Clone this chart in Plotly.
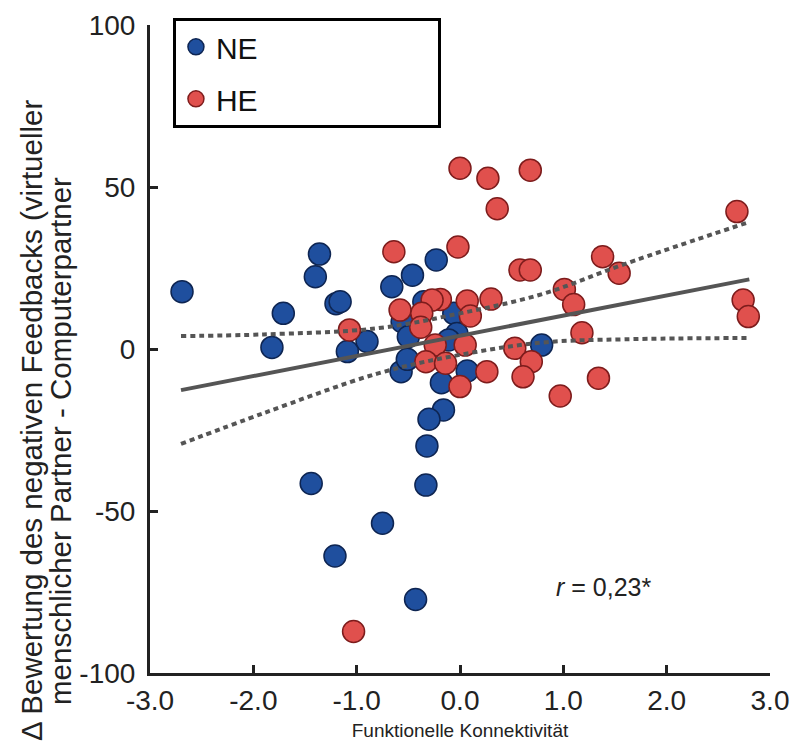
import plotly.graph_objects as go

# ---- data ----
ne_x = [-2.69, -1.71, -1.82, -1.36, -1.40, -1.20, -1.16, -0.90, -1.09, -0.66, -0.46, -0.23,
        -0.56, -0.50, -0.35, -0.06, -0.03, -0.11, -0.57, -0.51, -0.18, 0.07, 0.79, -0.16,
        -0.30, -0.32, -1.44, -0.33, -0.75, -1.21, -0.43]
ne_y = [17.7, 11.0, 0.5, 29.3, 22.3, 14.0, 14.6, 2.3, -0.8, 19.2, 22.8, 27.5,
        8.4, 3.8, 14.6, 11.0, 4.8, 2.8, -7.0, -3.2, -10.4, -6.8, 1.2, -18.8,
        -21.7, -29.9, -41.5, -42.0, -53.8, -63.9, -77.3]

he_x = [-1.07, -0.64, -0.02, 0.00, 0.27, 0.68, 0.36, 0.58, 0.68, -0.58, -0.19, -0.27,
        -0.37, -0.38, 0.07, 0.10, 0.30, -0.24, 0.05, -0.33, -0.14, 0.00, 0.26, 0.53,
        0.69, 0.61, 0.97, 1.34, 1.01, 1.10, 1.18, 1.38, 1.54, 2.68, 2.74, 2.79, -1.03]
he_y = [5.9, 30.0, 31.5, 55.8, 52.7, 55.2, 43.3, 24.4, 24.4, 12.0, 15.3, 15.1,
        11.0, 6.7, 14.8, 10.2, 15.4, 1.2, 1.2, -3.9, -4.4, -11.6, -7.0, 0.2,
        -3.9, -8.6, -14.5, -9.0, 18.4, 13.7, 5.0, 28.5, 23.4, 42.4, 15.1, 10.0, -87.2]

fit_x = [-2.7, 2.8]
fit_y = [-12.7, 21.5]

ci_x = [-2.7, -1.9, -0.8, 0.0, 0.8, 1.6, 2.8]
ci_upper = [4.0, 4.5, 6.4, 11.0, 17.0, 26.3, 39.2]
ci_lower = [-29.3, -19.8, -7.6, -1.8, 2.0, 3.0, 3.4]

x_ticks = [-3, -2, -1, 0, 1, 2, 3]
x_ticklabels = ["-3.0", "-2.0", "-1.0", "0.0", "1.0", "2.0", "3.0"]
y_ticks = [-100, -50, 0, 50, 100]
y_ticklabels = ["-100", "-50", "0", "50", "100"]

FONT = "Arial, 'Liberation Sans', sans-serif"
BLUE, BLUE_EDGE = "#1f4f9e", "#0e2552"
RED, RED_EDGE = "#e0504d", "#7d1c1c"
LINE = "#555555"
PAD = "\u00a0" * 21  # widens the legend box like the reference

fig = go.Figure()
fig.add_trace(go.Scatter(x=ne_x, y=ne_y, mode="markers", name="NE" + PAD, legendgroup="ne",
                         marker=dict(size=22, color=BLUE, line=dict(color=BLUE_EDGE, width=1.5))))
fig.add_trace(go.Scatter(x=he_x, y=he_y, mode="markers", name="HE" + PAD, legendgroup="he",
                         marker=dict(size=22, color=RED, line=dict(color=RED_EDGE, width=1.5))))
fig.add_trace(go.Scatter(x=fit_x, y=fit_y, mode="lines", showlegend=False,
                         line=dict(color=LINE, width=4)))
fig.add_trace(go.Scatter(x=ci_x, y=ci_upper, mode="lines", showlegend=False,
                         line=dict(color=LINE, width=4, dash="5px,4px", shape="spline")))
fig.add_trace(go.Scatter(x=ci_x, y=ci_lower, mode="lines", showlegend=False,
                         line=dict(color=LINE, width=4, dash="5px,4px", shape="spline")))

axis_common = dict(showgrid=False, zeroline=False, showline=True, linecolor="#222222",
                   linewidth=3, ticks="inside", ticklen=8, tickwidth=3, tickcolor="#222222",
                   tickfont=dict(family=FONT, size=28, color="#222222"),
                   ticklabeloverflow="allow", automargin=False)

fig.update_xaxes(range=[-3, 3], tickvals=x_ticks, ticktext=x_ticklabels,
                 title=dict(text="Funktionelle Konnektivität",
                            font=dict(family=FONT, size=19, color="#222222"), standoff=10),
                 **axis_common)
fig.update_yaxes(range=[-100, 100], tickvals=y_ticks, ticktext=y_ticklabels,
                 ticklabelstandoff=6, **axis_common)

fig.add_annotation(text="Δ Bewertung des negativen Feedbacks (virtueller", textangle=-90,
                   xref="paper", yref="paper", x=-0.1903, y=0.389, showarrow=False,
                   xanchor="center", yanchor="middle",
                   font=dict(family=FONT, size=29.5, color="#222222"))
fig.add_annotation(text="menschlicher Partner - Computerpartner", textangle=-90,
                   xref="paper", yref="paper", x=-0.1452, y=0.358, showarrow=False,
                   xanchor="center", yanchor="middle",
                   font=dict(family=FONT, size=29.5, color="#222222"))
fig.add_annotation(text="<i>r</i> = 0,23*", x=1.39, y=-73.5, showarrow=False,
                   font=dict(family=FONT, size=25, color="#222222"))

fig.update_layout(
    width=792, height=746,
    margin=dict(l=150, r=22, t=25, b=73),
    paper_bgcolor="white", plot_bgcolor="white",
    showlegend=True,
    legend=dict(x=0.037, y=1.011, xanchor="left", yanchor="top",
                bgcolor="white", bordercolor="black", borderwidth=3,
                font=dict(family=FONT, size=30, color="#111111"),
                tracegroupgap=10, itemwidth=30),
)

fig.write_html("out.html")
